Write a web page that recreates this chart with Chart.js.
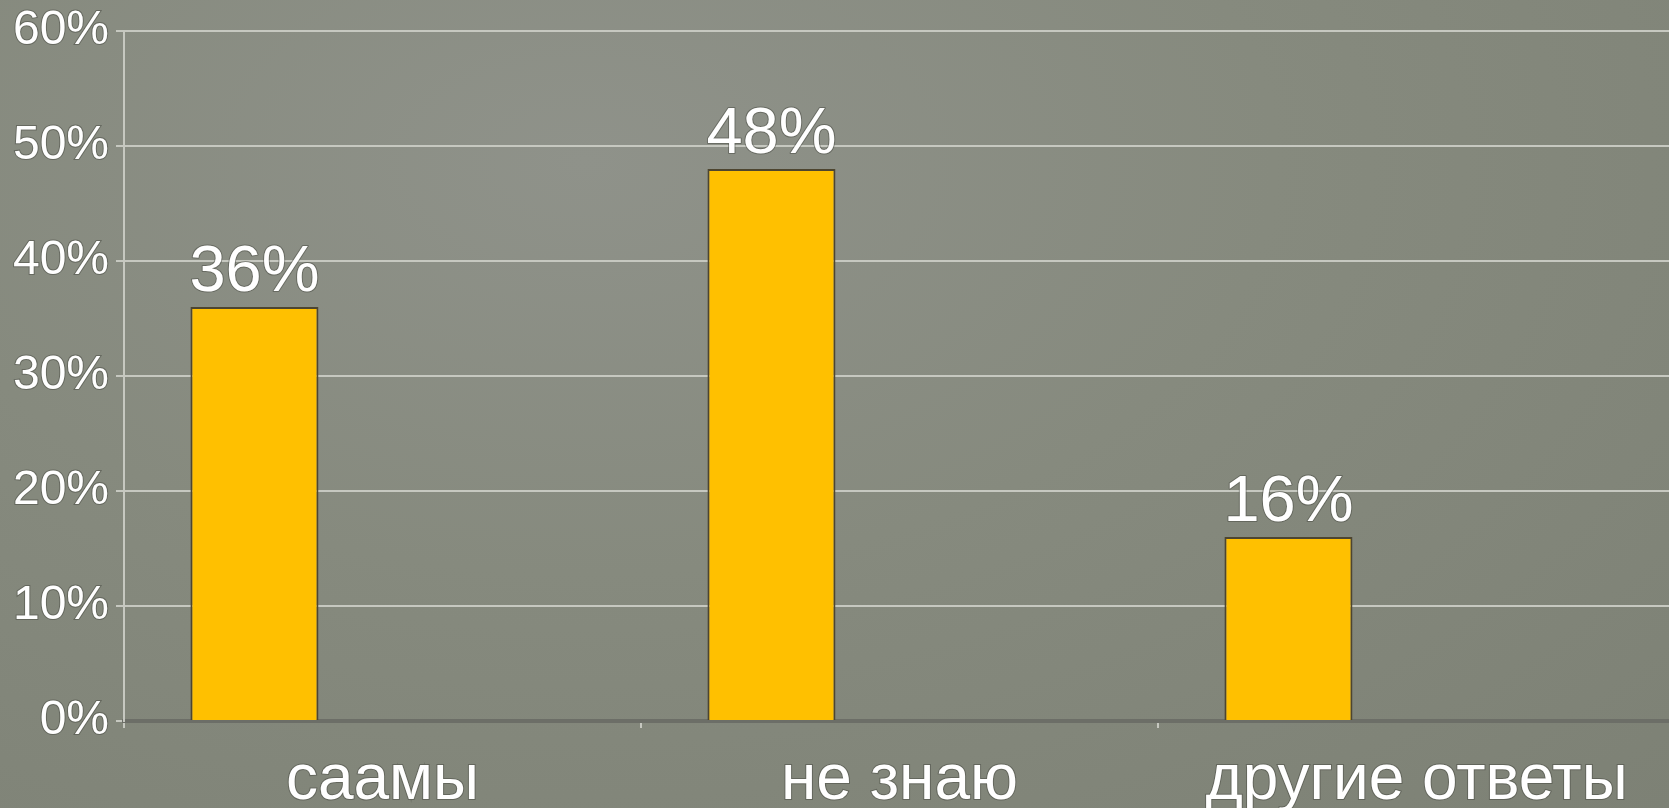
<!DOCTYPE html>
<html lang="ru">
<head>
<meta charset="utf-8">
<title>Опрос</title>
<script src="https://cdn.jsdelivr.net/npm/chart.js@4/dist/chart.umd.min.js"></script>
<style>
  html, body { margin: 0; padding: 0; overflow: hidden; }
  body {
    width: 1669px; height: 808px;
    background: radial-gradient(ellipse at 35% 20%, #8f928a 0%, #868a7e 45%, #7d8175 100%);
  }
  #wrap { width: 1680px; height: 808px; }
</style>
</head>
<body>
<div id="wrap"><canvas id="chart" width="1680" height="808"></canvas></div>
<script>
// Ответы на вопрос (в процентах)
const categories = ["саамы", "не знаю", "другие ответы"];
const answers = [36, 48, 16];
// в исходной диаграмме ещё две пустые серии, они занимают место в группе
const emptyA = [null, null, null];
const emptyB = [null, null, null];
const yTicks = [0, 10, 20, 30, 40, 50, 60];

const FONT = "'Liberation Sans', Arial, sans-serif";
const GRID = "#c6c8c0";
const HALO = "rgba(70,72,64,0.5)";

// подписи значений над столбиками
const valueLabels = {
  id: "valueLabels",
  afterDatasetsDraw(chart) {
    const ctx = chart.ctx;
    const meta = chart.getDatasetMeta(0);
    ctx.save();
    ctx.font = "65px " + FONT;
    ctx.textAlign = "center";
    ctx.textBaseline = "alphabetic";
    ctx.lineJoin = "round";
    meta.data.forEach((bar, i) => {
      const txt = answers[i] + "%";
      ctx.lineWidth = 2;
      ctx.strokeStyle = HALO;
      ctx.strokeText(txt, bar.x, bar.y - 16);
      ctx.fillStyle = "#ffffff";
      ctx.fillText(txt, bar.x, bar.y - 16);
    });
    ctx.restore();
  }
};

new Chart(document.getElementById("chart"), {
  type: "bar",
  data: {
    labels: categories,
    datasets: [
      {
        label: "ответы",
        data: answers,
        backgroundColor: "#ffc000",
        borderColor: "#4d4530",
        borderWidth: 2,
        categoryPercentage: 0.743,
        barPercentage: 1
      },
      { label: "ряд 2", data: emptyA, categoryPercentage: 0.743, barPercentage: 1 },
      { label: "ряд 3", data: emptyB, categoryPercentage: 0.743, barPercentage: 1 }
    ]
  },
  options: {
    responsive: false,
    animation: false,
    layout: { padding: { top: 30, right: 5, left: 0, bottom: 0 } },
    plugins: {
      legend: { display: false },
      tooltip: { enabled: false }
    },
    scales: {
      x: {
        grid: {
          display: true,
          offset: true,
          drawOnChartArea: false,
          drawTicks: true,
          tickLength: 7,
          color: GRID,
          lineWidth: 2
        },
        border: { display: true, color: "#6c6e67", width: 4 },
        ticks: {
          color: "#ffffff",
          padding: 15,
          font: { family: FONT, size: 64 },
          textStrokeColor: HALO,
          textStrokeWidth: 2
        },
        afterFit(scale) { scale.height = 87; }
      },
      y: {
        min: yTicks[0],
        max: yTicks[yTicks.length - 1],
        afterBuildTicks(scale) {
          scale.ticks = yTicks.map(v => ({ value: v }));
        },
        grid: {
          color: GRID,
          lineWidth: 2,
          drawTicks: true,
          tickLength: 8
        },
        border: { display: true, color: GRID, width: 2 },
        ticks: {
          color: "#ffffff",
          padding: 7,
          font: { family: FONT, size: 48, lineHeight: 1 },
          textStrokeColor: HALO,
          textStrokeWidth: 2,
          callback: v => v + "%"
        },
        afterFit(scale) { scale.width = 124; }
      }
    }
  },
  plugins: [valueLabels]
});
</script>
</body>
</html>
